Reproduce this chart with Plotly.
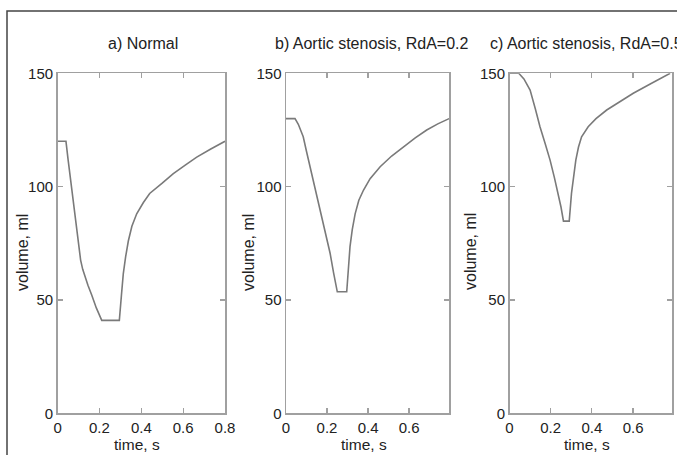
import plotly.graph_objects as go

# ---- data ----
titles = ["a) Normal", "b) Aortic stenosis, RdA=0.2", "c) Aortic stenosis, RdA=0.5"]
y_label = "volume, ml"
x_label = "time, s"

t_normal = [0, 0.04, 0.05, 0.07, 0.088, 0.11, 0.12, 0.131, 0.145, 0.163, 0.185, 0.211, 0.295,
            0.305, 0.314, 0.325, 0.338, 0.355, 0.378, 0.41, 0.44, 0.5, 0.553, 0.61, 0.665,
            0.73, 0.8]
v_normal = [120, 120, 112, 97, 82.3, 67.6, 63.5, 60.3, 56.5, 52.2, 46.5, 41, 41,
            52, 61.6, 69, 76, 82.5, 88, 93, 97, 101.5, 105.7, 109.5, 113,
            116.5, 120]

t_rda02 = [0, 0.044, 0.06, 0.084, 0.1, 0.117, 0.14, 0.166, 0.19, 0.215, 0.232, 0.25, 0.296,
           0.303, 0.312, 0.323, 0.337, 0.355, 0.378, 0.41, 0.459, 0.515, 0.573, 0.63, 0.686,
           0.74, 0.795]
v_rda02 = [130, 130, 127.5, 122, 115.5, 108.8, 99, 89.7, 80, 70.6, 62, 53.6, 53.6,
           63, 73.5, 81, 88, 94, 98.5, 103.5, 108.8, 113.5, 117.6, 121.5, 125,
           127.7, 130]

t_rda05 = [0, 0.045, 0.07, 0.1, 0.125, 0.148, 0.173, 0.197, 0.218, 0.237, 0.25, 0.262, 0.29,
           0.301, 0.31, 0.322, 0.335, 0.35, 0.382, 0.42, 0.472, 0.535, 0.601, 0.69, 0.78]
v_rda05 = [150, 150, 147.5, 142.6, 134.5, 126.4, 119, 111.7, 104, 97, 91, 84.8, 84.8,
           97, 104.5, 111.7, 117.5, 122, 126.4, 130, 133.8, 137.6, 141.2, 145.6, 150]

x_ranges = [[0, 0.8], [0, 0.796], [0, 0.789]]
x_ticks = [[0, 0.2, 0.4, 0.6, 0.8], [0, 0.2, 0.4, 0.6], [0, 0.2, 0.4, 0.6]]
y_ticks = [0, 50, 100, 150]

# ---- layout geometry (pixels) ----
W, H = 677, 455
panel_px = [(57.6, 225.0), (286.0, 449.3), (509.5, 672.0)]
top_px, bot_px = 73.3, 413.3

FONT = "Liberation Sans, Arial, sans-serif"
AX_COL = "#a0a0a0"
LINE_COL = "#7a7a7a"

def px(x):
    return x / W

def py(y):
    return 1 - y / H

fig = go.Figure()
series = [(t_normal, v_normal), (t_rda02, v_rda02), (t_rda05, v_rda05)]
for i, (t, v) in enumerate(series):
    sfx = "" if i == 0 else str(i + 1)
    fig.add_trace(go.Scatter(x=t, y=v, mode="lines",
                             line=dict(color=LINE_COL, width=1.6),
                             xaxis="x" + sfx, yaxis="y" + sfx, showlegend=False,
                             hoverinfo="skip"))

layout = dict(width=W, height=H, margin=dict(l=0, r=0, t=0, b=0, autoexpand=False),
              paper_bgcolor="white", plot_bgcolor="white", showlegend=False)
for i in range(3):
    sfx = "" if i == 0 else str(i + 1)
    common = dict(showline=True, linecolor=AX_COL, linewidth=1.5, mirror="ticks",
                  ticks="inside", ticklen=5, tickcolor=AX_COL, tickwidth=1.2,
                  showgrid=False, zeroline=False, automargin=False,
                  tickfont=dict(family=FONT, size=15, color="#222"))
    layout["xaxis" + sfx] = dict(common, domain=[px(panel_px[i][0]), px(panel_px[i][1])],
                                 range=x_ranges[i], tickvals=x_ticks[i],
                                 ticktext=[("%g" % v) for v in x_ticks[i]],
                                 anchor="y" + sfx)
    layout["yaxis" + sfx] = dict(common, domain=[py(bot_px), py(top_px)],
                                 range=[0, 150], tickvals=y_ticks,
                                 anchor="x" + sfx)
fig.update_layout(**layout)

# titles and labels
title_pos = [(143, "center"), (372, "center"), (488, "left")]
ylab_x = [22, 248, 470]
for i in range(3):
    fig.add_annotation(text=titles[i], x=px(title_pos[i][0]), y=py(44),
                       xref="paper", yref="paper", xanchor=title_pos[i][1], yanchor="middle",
                       showarrow=False, font=dict(family=FONT, size=16, color="#222"))
    fig.add_annotation(text=y_label, x=px(ylab_x[i]), y=py(252), xref="paper", yref="paper",
                       textangle=-90, xanchor="center", yanchor="middle", showarrow=False,
                       font=dict(family=FONT, size=16, color="#222"))
    cx = (panel_px[i][0] + panel_px[i][1]) / 2 - 4
    fig.add_annotation(text=x_label, x=px(cx), y=py(444), xref="paper", yref="paper",
                       xanchor="center", yanchor="middle", showarrow=False,
                       font=dict(family=FONT, size=15.5, color="#222"))

# outer frame (left and top edges)
fig.add_shape(type="path", xref="paper", yref="paper",
              path=f"M {px(7)},{py(460)} L {px(7)},{py(11)} L {px(680)},{py(11)}",
              line=dict(color="#444", width=1.5))

fig.write_html("out.html", config={"displayModeBar": False, "staticPlot": True},
               post_script="document.body.style.margin='0';document.body.style.overflow='hidden';")
